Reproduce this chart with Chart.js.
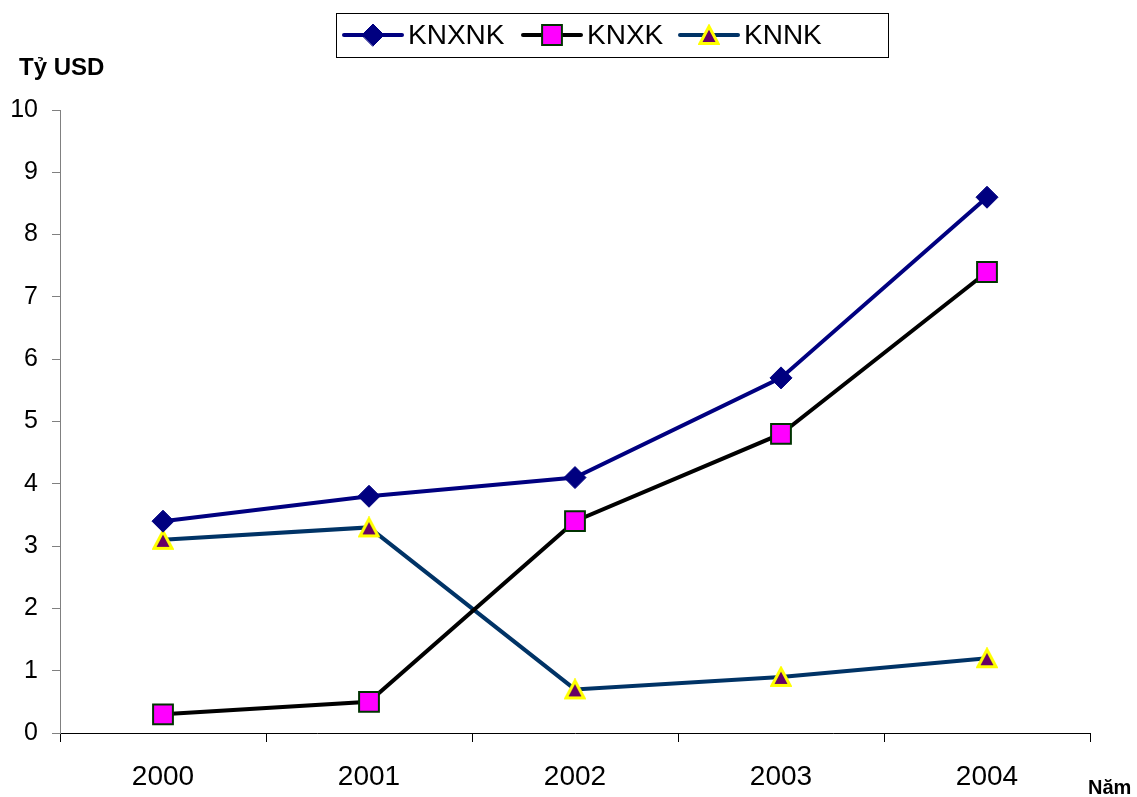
<!DOCTYPE html>
<html>
<head>
<meta charset="utf-8">
<script src="https://cdn.jsdelivr.net/npm/chart.js@4/dist/chart.umd.min.js"></script>
<style>
  html, body { margin: 0; padding: 0; background: #fff; }
  #wrap { width: 1137px; height: 797px; }
</style>
</head>
<body>
<div id="wrap"><canvas id="chart" width="1137" height="797"></canvas></div>
<script>
// Kim ngạch (tỷ USD) theo năm
const years = ['2000', '2001', '2002', '2003', '2004'];
const knxnk = [3.4, 3.8, 4.1, 5.7, 8.6];
const knxk = [0.3, 0.5, 3.4, 4.8, 7.4];
const knnk = [3.1, 3.3, 0.7, 0.9, 1.2];
const yTicks = [0, 1, 2, 3, 4, 5, 6, 7, 8, 9, 10];

const FONT = 'Arial, "Liberation Sans", sans-serif';

// Excel-style triangle marker, centred on the point (Chart.js' own one sits high)
function triangleMarker() {
    const c = document.createElement('canvas');
    c.width = 22; c.height = 22;
    const g = c.getContext('2d');
    g.beginPath();
    g.moveTo(11, 2.5);
    g.lineTo(20, 19.5);
    g.lineTo(2, 19.5);
    g.closePath();
    g.fillStyle = '#660066';
    g.fill();
    g.strokeStyle = '#ffff00';
    g.lineWidth = 3;
    g.lineJoin = 'miter';
    g.stroke();
    return c;
}
const triImg = triangleMarker();

// legend + axis titles drawn by hand so the box looks like the old Excel one
const extras = {
    id: 'extras',
    afterDraw(chart) {
        const ctx = chart.ctx;
        ctx.save();

        // legend box
        const bx = 336, by = 13, bw = 552, bh = 44;
        ctx.fillStyle = '#fff';
        ctx.fillRect(bx, by, bw, bh);
        ctx.strokeStyle = '#000';
        ctx.lineWidth = 1;
        ctx.strokeRect(bx + 0.5, by + 0.5, bw, bh);

        const items = [
            { x: 344, ds: chart.data.datasets[0] },
            { x: 523, ds: chart.data.datasets[1] },
            { x: 680, ds: chart.data.datasets[2] }
        ];
        const cy = by + bh / 2;
        items.forEach(it => {
            const ds = it.ds;
            ctx.strokeStyle = ds.borderColor;
            ctx.lineWidth = ds.borderWidth;
            ctx.lineCap = 'round';
            ctx.beginPath();
            ctx.moveTo(it.x, cy);
            ctx.lineTo(it.x + 58, cy);
            ctx.stroke();
            ctx.fillStyle = ds.pointBackgroundColor;
            ctx.strokeStyle = ds.pointBorderColor;
            ctx.lineWidth = ds.pointBorderWidth;
            Chart.helpers.drawPoint(ctx, {
                pointStyle: ds.pointStyle,
                radius: ds.pointRadius,
                rotation: 0,
                borderWidth: ds.pointBorderWidth
            }, it.x + 29, cy);
            ctx.fillStyle = '#000';
            ctx.font = '28px ' + FONT;
            ctx.textAlign = 'left';
            ctx.textBaseline = 'middle';
            ctx.fillText(ds.label, it.x + 64, cy + 1);
        });

        // axis titles
        ctx.fillStyle = '#000';
        ctx.font = 'bold 24px ' + FONT;
        ctx.textAlign = 'left';
        ctx.textBaseline = 'middle';
        ctx.fillText('Tỷ USD', 19, 68);
        ctx.font = 'bold 20px ' + FONT;
        ctx.fillText('Năm', 1088, 788);
        ctx.restore();
    }
};

const ctx = document.getElementById('chart').getContext('2d');
const chart = new Chart(ctx, {
    type: 'line',
    data: {
        labels: years,
        datasets: [{
            label: 'KNXNK',
            data: knxnk,
            borderColor: '#000080',
            borderWidth: 4,
            pointStyle: 'rectRot',
            pointRadius: 11,
            pointBackgroundColor: '#000080',
            pointBorderColor: '#000080',
            pointBorderWidth: 1
        }, {
            label: 'KNXK',
            data: knxk,
            borderColor: '#000000',
            borderWidth: 4,
            pointStyle: 'rect',
            pointRadius: 14,
            pointBackgroundColor: '#ff00ff',
            pointBorderColor: '#003300',
            pointBorderWidth: 2
        }, {
            label: 'KNNK',
            data: knnk,
            borderColor: '#003366',
            borderWidth: 4,
            pointStyle: triImg,
            pointRadius: 11,
            pointBackgroundColor: '#660066',
            pointBorderColor: '#ffff00',
            pointBorderWidth: 3
        }]
    },
    options: {
        responsive: false,
        animation: false,
        clip: false,
        layout: { padding: { top: 110, right: 47, left: 0, bottom: 0 } },
        plugins: {
            legend: { display: false },
            tooltip: { enabled: false }
        },
        elements: { line: { tension: 0 } },
        scales: {
            x: {
                offset: true,
                grid: { offset: true, drawOnChartArea: false, tickLength: 9, color: '#000' },
                border: { color: '#000', width: 1 },
                ticks: { color: '#000', font: { family: FONT, size: 28 }, padding: 18, maxRotation: 0 },
                afterFit(scale) { scale.height = 64; }
            },
            y: {
                min: 0,
                max: 10,
                afterBuildTicks(scale) { scale.ticks = yTicks.map(v => ({ value: v })); },
                grid: { drawOnChartArea: false, tickLength: 8, color: '#808080' },
                border: { color: '#808080', width: 1 },
                ticks: { color: '#000', font: { family: FONT, size: 25 }, padding: 14 },
                afterFit(scale) { scale.width = 60; }
            }
        }
    },
    plugins: [extras]
});
</script>
</body>
</html>
